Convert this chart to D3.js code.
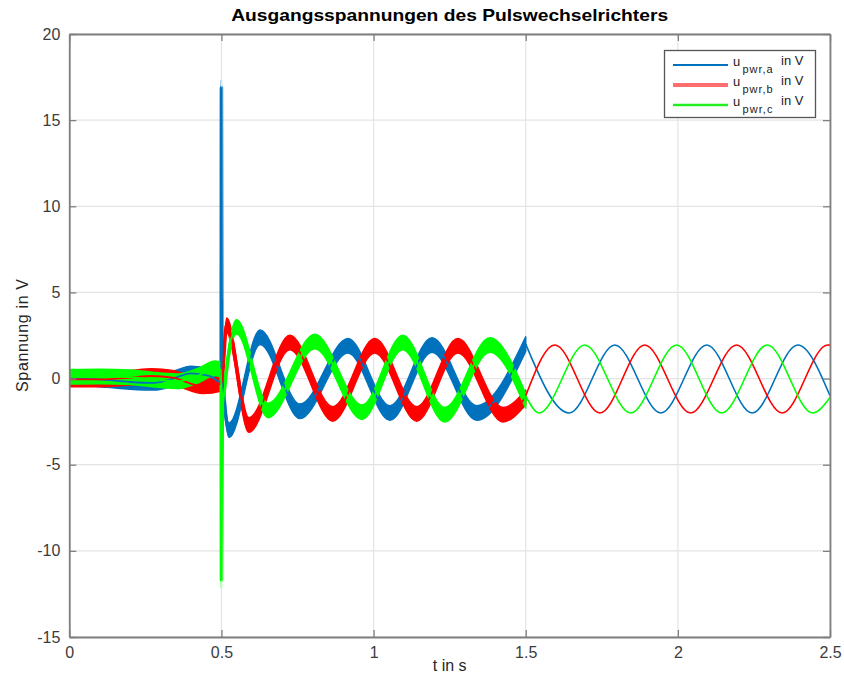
<!DOCTYPE html>
<html><head><meta charset="utf-8">
<script src="https://cdn.jsdelivr.net/npm/d3@7"></script>
<style>
body{margin:0;background:#fff;}
text{font-family:"Liberation Sans", Arial, Helvetica, sans-serif;}
</style>
</head><body>
<svg id="chart" width="844" height="677"></svg>
<script>
// ---------- data ----------
const xTicks = [0, 0.5, 1, 1.5, 2, 2.5];
const xTickLabels = ["0", "0.5", "1", "1.5", "2", "2.5"];
const yTicks = [-15, -10, -5, 0, 5, 10, 15, 20];
const yTickLabels = ["-15", "-10", "-5", "0", "5", "10", "15", "20"];
const seriesLabels = ["pwr,a", "pwr,b", "pwr,c"];
const rippleHalf = 0.42; // half height of the PWM ripple band (V), t < 1.5 s

// phase a (blue): 0 .. 1.5 s with ripple
const tA1 = [0, 0.1, 0.2, 0.28, 0.34, 0.4, 0.46, 0.499, 0.5, 0.5015, 0.525, 0.627, 0.758, 0.916, 1.054, 1.192, 1.339, 1.5];
const vA1 = [0.0, -0.05, -0.2, -0.25, 0.0, 0.3, 0.15, -0.2, 16.9, 1.0, -3.0, 2.4, -1.9, 1.9, -2.0, 1.95, -2.0, 2.0];
// phase a: 1.5 .. 2.5 s
const tA2 = [1.5, 1.643, 1.793, 1.944, 2.095, 2.244, 2.394, 2.5];
const vA2 = [2.0, -2.0, 1.95, -2.0, 1.95, -2.0, 1.95, -1.0];

// phase b (red)
const tB1 = [0, 0.1, 0.2, 0.27, 0.34, 0.44, 0.499, 0.501, 0.517, 0.59, 0.725, 0.866, 1.004, 1.142, 1.277, 1.425, 1.5];
const vB1 = [-0.05, -0.05, 0.05, 0.15, 0.05, -0.45, -0.3, -0.2, 3.1, -2.7, 2.1, -2.05, 1.9, -2.05, 1.9, -2.1, -1.1];
const tB2 = [1.5, 1.596, 1.744, 1.891, 2.042, 2.193, 2.343, 2.492, 2.5];
const vB2 = [-1.0, 1.95, -2.0, 1.95, -2.0, 1.95, -2.0, 1.95, 1.94];

// phase c (green)
const tC1 = [0, 0.1, 0.2, 0.3, 0.36, 0.42, 0.48, 0.499, 0.5, 0.503, 0.55, 0.653, 0.807, 0.962, 1.096, 1.234, 1.382, 1.5];
const vC1 = [0.1, 0.12, 0.08, -0.1, -0.15, 0.15, 0.6, 0.5, -11.7, -2.0, 3.0, -1.85, 2.15, -1.95, 2.1, -2.1, 1.95, -1.3];
const tC2 = [1.5, 1.544, 1.694, 1.845, 1.996, 2.144, 2.294, 2.443, 2.5];
const vC2 = [-1.0, -2.0, 1.95, -2.0, 1.95, -2.0, 1.95, -2.0, -1.1];

const colors = ["#0072BD", "#FF0000", "#00FF00"];
const legendColors = ["#0072BD", "#FF6E6E", "#22EE22"];
const legendWidths = [1.8, 3.8, 2.6];

// ---------- chart ----------
const W = 844, H = 677;
const L = 69.3, R = 830, T = 34, B = 637;
const svg = d3.select("#chart");
const x = d3.scaleLinear().domain([0, 2.5]).range([L, R]);
const y = d3.scaleLinear().domain([-15, 20]).range([B, T]);

svg.append("rect").attr("width", W).attr("height", H).attr("fill", "#fff");

// grid
const grid = svg.append("g").attr("stroke", "#e4e4e4").attr("stroke-width", 1.2);
xTicks.forEach(t => grid.append("line").attr("x1", x(t)).attr("x2", x(t)).attr("y1", T).attr("y2", B));
yTicks.forEach(v => grid.append("line").attr("x1", L).attr("x2", R).attr("y1", y(v)).attr("y2", y(v)));

const defs = svg.append("defs");
defs.append("clipPath").attr("id", "clip").append("rect")
  .attr("x", L).attr("y", T).attr("width", R - L).attr("height", B - T);
// clip for the thick ripple band: everything except the far reaches of the switching spike
const ct = defs.append("clipPath").attr("id", "clipThick");
ct.append("rect").attr("x", L).attr("y", y(4.6)).attr("width", R - L).attr("height", y(-4.6) - y(4.6));
ct.append("rect").attr("x", L).attr("y", T).attr("width", x(0.4985) - L).attr("height", B - T);
ct.append("rect").attr("x", x(0.5035)).attr("y", T).attr("width", R - x(0.5035)).attr("height", B - T);

const plot = svg.append("g").attr("clip-path", "url(#clip)");
const thick = plot.append("g").attr("clip-path", "url(#clipThick)");

const zip = (ts, vs) => ts.map((t, i) => [t, vs[i]]);
const line = d3.line().x(d => x(d[0])).y(d => y(d[1])).curve(d3.curveMonotoneX);
const area = d3.area().x(d => x(d[0]))
  .y0(d => y(d[1] - rippleHalf)).y1(d => y(d[1] + rippleHalf)).curve(d3.curveMonotoneX);

const series = [
  [zip(tA1, vA1), zip(tA2, vA2)],
  [zip(tB1, vB1), zip(tB2, vB2)],
  [zip(tC1, vC1), zip(tC2, vC2)]
];

series.forEach((s, i) => {
  const g = thick.append("g");
  g.append("path").attr("d", area(s[0])).attr("fill", colors[i]).attr("stroke", colors[i]).attr("stroke-width", 1.5)
    .attr("stroke-linejoin", "round");
  g.append("path").attr("d", line(s[0])).attr("fill", "none").attr("stroke", colors[i]).attr("stroke-width", 3.5)
    .attr("stroke-linejoin", "round");
  // thin trace (shows the spike)
  plot.append("path").attr("d", line(s[0])).attr("fill", "none").attr("stroke", colors[i]).attr("stroke-width", 1.8);
});
series.forEach((s, i) => {
  plot.append("path").attr("d", line(s[1])).attr("fill", "none").attr("stroke", colors[i]).attr("stroke-width", 1.6);
});

// axes
const axisColor = "#7f7f7f";
function styleAxis(g, showText) {
  g.select(".domain").attr("stroke", axisColor).attr("stroke-width", 1.8);
  g.selectAll(".tick line").attr("stroke", axisColor).attr("stroke-width", 1.3);
  g.selectAll(".tick text").attr("fill", "#3c3c3c").attr("font-size", 16)
    .attr("font-family", "Liberation Sans, Arial, sans-serif");
  if (!showText) g.selectAll(".tick text").remove();
}
const gx = svg.append("g").attr("transform", `translate(0,${B})`)
  .call(d3.axisBottom(x).tickValues(xTicks).tickFormat((d, i) => xTickLabels[i]).tickSizeInner(-7).tickSizeOuter(0).tickPadding(10));
styleAxis(gx, true);
const gy = svg.append("g").attr("transform", `translate(${L},0)`)
  .call(d3.axisLeft(y).tickValues(yTicks).tickFormat((d, i) => yTickLabels[i]).tickSizeInner(-7).tickSizeOuter(0).tickPadding(9));
styleAxis(gy, true);
const gt = svg.append("g").attr("transform", `translate(0,${T})`)
  .call(d3.axisTop(x).tickValues(xTicks).tickSizeInner(-7).tickSizeOuter(0));
styleAxis(gt, false);
const gr = svg.append("g").attr("transform", `translate(${R},0)`)
  .call(d3.axisRight(y).tickValues(yTicks).tickSizeInner(-7).tickSizeOuter(0));
styleAxis(gr, false);

// title & labels
svg.append("text").attr("x", (L + R) / 2).attr("y", 21).attr("text-anchor", "middle")
  .attr("font-size", 16.5).attr("font-weight", "bold").attr("fill", "#000")
  .attr("textLength", 437).attr("lengthAdjust", "spacingAndGlyphs")
  .text("Ausgangsspannungen des Pulswechselrichters");
svg.append("text").attr("x", (L + R) / 2).attr("y", 671).attr("text-anchor", "middle")
  .attr("font-size", 16).attr("fill", "#262626").text("t in s");
svg.append("text").attr("transform", `translate(28,${(T + B) / 2}) rotate(-90)`)
  .attr("text-anchor", "middle").attr("font-size", 16).attr("fill", "#262626")
  .attr("textLength", 113).attr("lengthAdjust", "spacing").text("Spannung in V");

// legend
const lg = svg.append("g");
lg.append("rect").attr("x", 664.5).attr("y", 50.5).attr("width", 151).attr("height", 67)
  .attr("fill", "#fff").attr("stroke", "#555").attr("stroke-width", 1.3);
seriesLabels.forEach((lab, i) => {
  const yy = 65 + i * 20;
  lg.append("line").attr("x1", 673).attr("x2", 728).attr("y1", yy).attr("y2", yy)
    .attr("stroke", legendColors[i]).attr("stroke-width", legendWidths[i]);
  lg.append("text").attr("x", 733).attr("y", yy + 1).attr("font-size", 13).attr("fill", "#222").text("u");
  lg.append("text").attr("x", 742.5).attr("y", yy + 7.5).attr("font-size", 11).attr("fill", "#222")
    .attr("textLength", 30).attr("lengthAdjust", "spacing").text(lab);
  lg.append("text").attr("x", 781).attr("y", yy - 0.5).attr("font-size", 13).attr("fill", "#222")
    .text("in V");
});
</script>
</body></html>
